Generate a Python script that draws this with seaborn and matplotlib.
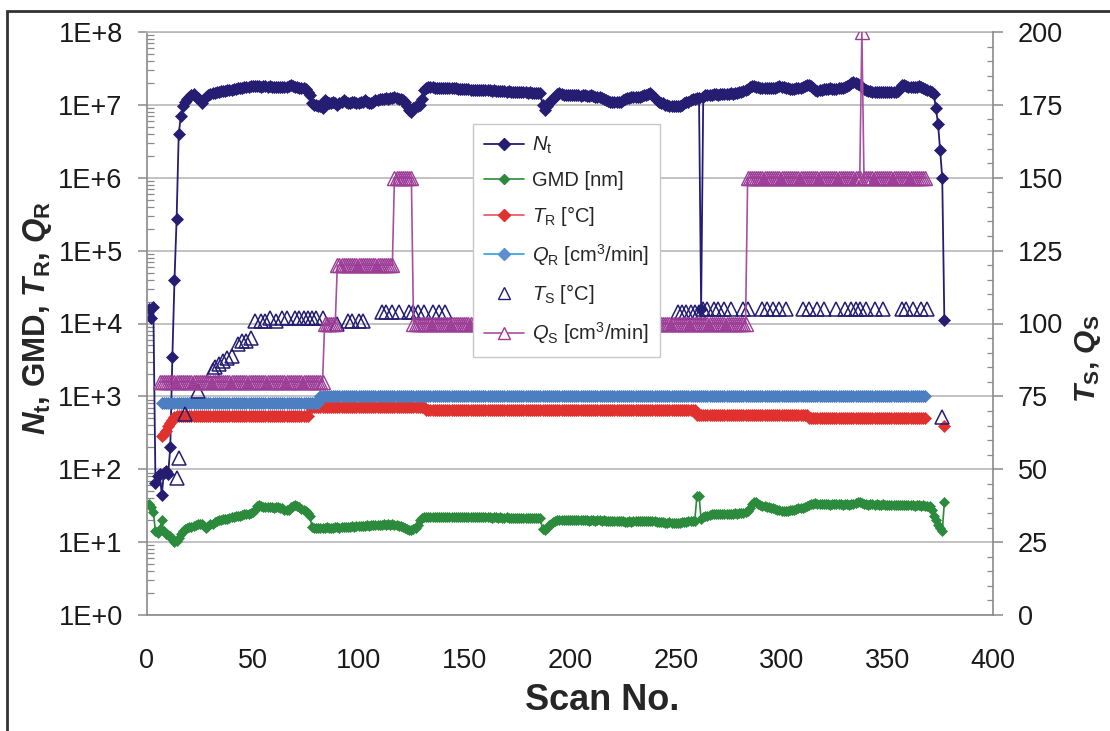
import numpy as np
import matplotlib
matplotlib.use("Agg")
import matplotlib.pyplot as plt
from matplotlib.lines import Line2D
from matplotlib.patches import Rectangle
from matplotlib.ticker import LogLocator, MultipleLocator, FuncFormatter, NullFormatter
import seaborn as sns

# ---------------------------------------------------------------- data
# Total number concentration N_t per scan (scans 1..377)
NT = [
    1.6e4, 1.2e4, 1.7e4, 65, 80, 85, 45, 90, 95, 85,                                  # 1-10
    200, 3.5e3, 4.0e4, 2.7e5, 4.0e6, 7.0e6, 9.5e6, 1.1e7, 1.2e7, 1.3e7,               # 11-20
    1.35e7, 1.4e7, 1.3e7, 1.25e7, 1.15e7, 1.05e7, 1.2e7, 1.3e7, 1.35e7, 1.4e7,        # 21-30
    1.45e7, 1.45e7, 1.5e7, 1.5e7, 1.55e7, 1.55e7, 1.55e7, 1.6e7, 1.6e7, 1.6e7,        # 31-40
    1.65e7, 1.65e7, 1.7e7, 1.7e7, 1.7e7, 1.75e7, 1.75e7, 1.75e7, 1.8e7, 1.8e7,        # 41-50
    1.8e7, 1.8e7, 1.8e7, 1.78e7, 1.8e7, 1.8e7, 1.78e7, 1.8e7, 1.78e7, 1.77e7,         # 51-60
    1.78e7, 1.78e7, 1.76e7, 1.77e7, 1.75e7, 1.76e7, 1.8e7, 1.9e7, 1.8e7, 1.75e7,      # 61-70
    1.75e7, 1.7e7, 1.7e7, 1.7e7, 1.65e7, 1.5e7, 1.35e7, 1.05e7, 1.0e7, 1.0e7,         # 71-80
    9.5e6, 9.5e6, 9.2e6, 1.15e7, 1.1e7, 1.05e7, 1.05e7, 1.1e7, 1.05e7, 1.0e7,         # 81-90
    1.05e7, 1.1e7, 1.15e7, 1.1e7, 1.05e7, 1.05e7, 1.1e7, 1.1e7, 1.05e7, 1.05e7,       # 91-100
    1.1e7, 1.1e7, 1.15e7, 1.1e7, 1.05e7, 1.05e7, 1.1e7, 1.15e7, 1.15e7, 1.2e7,        # 101-110
    1.2e7, 1.2e7, 1.25e7, 1.2e7, 1.25e7, 1.25e7, 1.3e7, 1.25e7, 1.2e7, 1.2e7,         # 111-120
    1.15e7, 1.1e7, 9.5e6, 8.5e6, 8.0e6, 9.0e6, 9.5e6, 9.5e6, 1.0e7, 1.2e7,            # 121-130
    1.6e7, 1.7e7, 1.75e7, 1.75e7, 1.75e7, 1.72e7, 1.72e7, 1.7e7, 1.72e7, 1.7e7,       # 131-140
    1.7e7, 1.7e7, 1.68e7, 1.7e7, 1.68e7, 1.68e7, 1.65e7, 1.66e7, 1.65e7, 1.65e7,      # 141-150
    1.63e7, 1.65e7, 1.62e7, 1.62e7, 1.6e7, 1.62e7, 1.6e7, 1.6e7, 1.58e7, 1.6e7,       # 151-160
    1.58e7, 1.58e7, 1.56e7, 1.58e7, 1.55e7, 1.55e7, 1.56e7, 1.54e7, 1.55e7, 1.52e7,   # 161-170
    1.53e7, 1.52e7, 1.5e7, 1.5e7, 1.52e7, 1.5e7, 1.5e7, 1.48e7, 1.5e7, 1.47e7,        # 171-180
    1.48e7, 1.46e7, 1.47e7, 1.45e7, 1.46e7, 1.45e7, 1.0e7, 8.5e6, 9.5e6, 1.05e7,      # 181-190
    1.15e7, 1.2e7, 1.3e7, 1.4e7, 1.45e7, 1.4e7, 1.38e7, 1.38e7, 1.36e7, 1.36e7,       # 191-200
    1.38e7, 1.35e7, 1.35e7, 1.36e7, 1.34e7, 1.35e7, 1.35e7, 1.33e7, 1.34e7, 1.35e7,   # 201-210
    1.32e7, 1.3e7, 1.3e7, 1.28e7, 1.25e7, 1.2e7, 1.15e7, 1.12e7, 1.1e7, 1.1e7,        # 211-220
    1.08e7, 1.1e7, 1.08e7, 1.1e7, 1.15e7, 1.2e7, 1.25e7, 1.25e7, 1.28e7, 1.3e7,       # 221-230
    1.3e7, 1.28e7, 1.3e7, 1.32e7, 1.35e7, 1.35e7, 1.4e7, 1.45e7, 1.35e7, 1.25e7,      # 231-240
    1.15e7, 1.1e7, 1.05e7, 1.05e7, 1.0e7, 1.0e7, 9.8e6, 9.5e6, 9.5e6, 9.5e6,          # 241-250
    9.5e6, 9.8e6, 1.0e7, 1.05e7, 1.08e7, 1.1e7, 1.15e7, 1.2e7, 1.2e7, 1.25e7,         # 251-260
    1.25e7, 1.6e4, 1.3e7, 1.35e7, 1.35e7, 1.38e7, 1.38e7, 1.4e7, 1.4e7, 1.38e7,       # 261-270
    1.4e7, 1.4e7, 1.42e7, 1.4e7, 1.42e7, 1.45e7, 1.42e7, 1.45e7, 1.45e7, 1.48e7,      # 271-280
    1.5e7, 1.55e7, 1.6e7, 1.65e7, 1.75e7, 1.8e7, 1.8e7, 1.75e7, 1.75e7, 1.72e7,       # 281-290
    1.72e7, 1.7e7, 1.7e7, 1.72e7, 1.7e7, 1.7e7, 1.72e7, 1.75e7, 1.8e7, 1.78e7,        # 291-300
    1.75e7, 1.72e7, 1.68e7, 1.65e7, 1.65e7, 1.65e7, 1.68e7, 1.7e7, 1.72e7, 1.75e7,    # 301-310
    1.8e7, 1.85e7, 1.85e7, 1.8e7, 1.7e7, 1.6e7, 1.55e7, 1.6e7, 1.62e7, 1.65e7,        # 311-320
    1.65e7, 1.65e7, 1.68e7, 1.65e7, 1.65e7, 1.65e7, 1.68e7, 1.7e7, 1.72e7, 1.75e7,    # 321-330
    1.8e7, 1.9e7, 2.0e7, 2.05e7, 2.0e7, 1.95e7, 1.85e7, 1.75e7, 1.65e7, 1.6e7,        # 331-340
    1.55e7, 1.55e7, 1.52e7, 1.5e7, 1.5e7, 1.5e7, 1.52e7, 1.5e7, 1.5e7, 1.5e7,         # 341-350
    1.5e7, 1.5e7, 1.52e7, 1.5e7, 1.55e7, 1.7e7, 1.9e7, 1.85e7, 1.8e7, 1.75e7,         # 351-360
    1.75e7, 1.78e7, 1.75e7, 1.75e7, 1.8e7, 1.75e7, 1.7e7, 1.65e7, 1.6e7, 1.55e7,      # 361-370
    1.5e7, 1.4e7, 9.0e6, 5.5e6, 2.4e6, 1.0e6, 1.1e4,                                  # 371-377
]

# Geometric mean diameter GMD [nm] per scan (scans 1..377)
GMD = [
    33, 30, 26, 14, 13.5, 15, 20, 14, 13, 12.5,
    12, 11, 10, 10.5, 11.5, 13, 14, 15, 15.5, 16,
    16, 16.5, 17, 17.5, 18, 17.5, 16.5, 15.5, 16.5, 17.5,
    18, 19, 19.5, 20, 20, 20.5, 21, 21, 21.5, 22,
    22, 22.5, 23, 23, 23.5, 24, 24, 24.5, 25, 26,
    28, 31, 32, 31, 30, 30, 30.5, 30, 30, 29.5,
    30, 30, 29.5, 29, 28, 27.5, 28, 30, 31, 32,
    31, 30, 28.5, 27.5, 26.5, 25, 23, 16, 15.5, 15.5,
    15.5, 15.8, 15.5, 15.5, 16, 15.8, 15.5, 15.8, 16, 16,
    15.8, 16, 16.2, 16, 16, 16.2, 16.5, 16.2, 16.5, 16.5,
    16.8, 16.5, 16.8, 17, 16.8, 17, 17, 17.2, 17, 17.2,
    17, 17.5, 17.2, 17.5, 17.2, 17.5, 17.2, 17, 16.8, 16.5,
    16, 15.5, 15, 14.5, 14.5, 15, 15.5, 17, 20, 21.5,
    22, 22, 22, 22.2, 22, 22, 21.8, 22, 22, 22.2,
    22, 22, 21.8, 22, 22, 22.2, 22, 21.8, 22, 22,
    21.8, 22, 22, 21.8, 22, 21.8, 21.8, 22, 21.8, 21.8,
    22, 21.8, 21.6, 21.8, 21.8, 21.6, 21.8, 21.6, 21.6, 21.8,
    21.6, 21.6, 21.5, 21.6, 21.6, 21.5, 21.5, 21.6, 21.5, 21.5,
    21.4, 21.5, 21.5, 21.4, 21.4, 21.2, 15, 14.5, 15.5, 17,
    18, 19, 19.5, 20, 20, 20, 20.2, 20, 20, 20.2,
    20, 20, 20.2, 20, 20, 20.2, 20, 20, 19.8, 20,
    20, 19.8, 20, 20, 19.8, 20, 19.8, 19.6, 19.8, 19.8,
    19.6, 19.8, 19.6, 19.5, 19.2, 19, 19, 19.2, 19, 19.2,
    19.4, 19.6, 19.4, 19.5, 19.6, 19.8, 19.6, 19.5, 19.4, 19.2,
    19, 18.8, 18.8, 18.6, 18.5, 18.5, 18.6, 18.4, 18.5, 18.4,
    18.5, 18.4, 18.6, 18.8, 19, 19.2, 19.5, 19.5, 19.8, 43,
    43, 21, 22, 22.5, 23, 23.5, 24, 24, 24, 24.5,
    24, 24, 24.5, 24.5, 24, 24.5, 24.5, 25, 24.5, 25,
    25, 25, 25.5, 27, 29, 33, 36, 35, 33, 32,
    31.5, 31, 30.5, 30, 29.5, 29, 28.5, 28, 27.5, 27,
    27, 26.5, 27, 27.5, 28, 28, 28.5, 29, 29, 29.5,
    30, 31, 32, 33, 33.5, 34, 33.5, 33, 33, 33.5,
    33, 33, 32.5, 33, 33, 33.5, 33, 33, 32.5, 33,
    33, 32.5, 33, 33.5, 34, 35, 36, 34, 33, 33,
    32.5, 33, 33, 32.5, 33, 32.5, 32.5, 33, 32.5, 32,
    32.5, 32.5, 32, 32.5, 32, 32, 32.5, 32, 32, 32.5,
    32, 32, 31.5, 32, 32, 31.5, 32, 31.5, 31.5, 31,
    28, 23, 20, 17, 15.5, 14, 35,
]

# Reactor temperature T_R [degC]: warm-up readings, then held levels (first scan, last scan, value)
TR_RAMP_SCANS = [7, 8, 9, 10, 11, 12, 13, 14]
TR_RAMP = [290, 300, 340, 390, 430, 480, 520, 540]
TR_LEVELS = [(15, 76, 530), (77, 131, 720), (132, 259, 650), (260, 312, 550), (313, 368, 505)]
TR_LAST_SCAN, TR_LAST = 377, 390

# Reactor flow Q_R [cm3/min] levels (first scan, last scan, value)
QR_LEVELS = [(7, 81, 800), (82, 368, 1000)]

# Sampler temperature T_S [degC] (right axis)
TS_SCANS = [14, 15, 18, 24, 31, 32, 34, 36, 38, 40, 43, 45, 47, 49, 51, 54, 56, 58, 61, 64,
            66, 70, 72, 74, 76, 78, 80, 83, 90, 95, 97, 100, 102, 111, 113, 116, 119, 124,
            126, 128, 131, 135, 138, 141, 251, 253, 255, 257, 259, 261, 263, 265, 268, 270,
            273, 276, 282, 284, 291, 293, 296, 299, 302, 310, 313, 317, 320, 326, 330, 333,
            335, 337, 340, 344, 348, 357, 359, 362, 366, 369, 376]
TS = [47, 54, 69, 77, 84, 85, 86, 87, 88, 89, 93, 94, 94, 95, 101, 101, 101, 102, 101, 102,
      102, 102, 102, 102, 102, 102, 102, 102, 100, 101, 101, 101, 101, 104, 104, 104, 104, 104,
      104, 104, 104, 104, 104, 104, 104, 104, 104, 104, 104, 104, 105, 105, 105, 105,
      105, 105, 105, 105, 105, 105, 105, 105, 105, 105, 105, 105, 105, 105, 105, 105,
      105, 105, 105, 105, 105, 105, 105, 105, 105, 105, 68]

# Sampler flow Q_S [cm3/min] levels (right axis)
QS_LEVELS = [(6, 83, 80), (84, 89, 100), (90, 116, 120), (117, 125, 150), (126, 283, 100),
             (284, 337, 150), (338, 338, 200), (339, 368, 150)]


def expand(levels):
    xs, ys = [], []
    for first, last, value in levels:
        n = last - first + 1
        xs.extend(range(first, last + 1))
        ys.extend([value] * n)
    return np.array(xs), np.array(ys, dtype=float)


# ---------------------------------------------------------------- style
sns.set_style("white")
plt.rcParams["font.family"] = ["Liberation Sans", "DejaVu Sans"]
plt.rcParams["mathtext.fontset"] = "custom"
plt.rcParams["mathtext.rm"] = "Liberation Sans"
plt.rcParams["mathtext.it"] = "Liberation Sans:italic"
plt.rcParams["mathtext.bf"] = "Liberation Sans:bold"
try:
    plt.rcParams["mathtext.bfit"] = "Liberation Sans:bold:italic"
except KeyError:
    pass

NAVY = "#241d72"
GREEN = "#2b8a3b"
RED = "#e1312f"
BLUE = "#4c7fc1"
PURPLE = "#9c3c97"
AXIS_GREY = "#8a8a8a"
GRID_GREY = "#b8b8b8"

W, H = 1110, 731
fig = plt.figure(figsize=(W / 100, H / 100), dpi=100)
fig.patch.set_facecolor("white")
L, R, T, B = 147, 993, 32, 615
ax = fig.add_axes([L / W, 1 - B / H, (R - L) / W, (B - T) / H])

scans = np.arange(1, len(NT) + 1)
DMS = 6.6   # diamond marker size

# ---------------------------------------------------------------- left axis series
sns.lineplot(x=scans, y=NT, ax=ax, color=NAVY, lw=1.3, marker="D", markersize=DMS,
             markeredgecolor=NAVY, markeredgewidth=0.5, legend=False)
sns.lineplot(x=np.arange(1, len(GMD) + 1), y=GMD, ax=ax, color=GREEN, lw=1.2, marker="D",
             markersize=5.2, markeredgecolor=GREEN, markeredgewidth=0.5, legend=False)

tr_x, tr_y = expand(TR_LEVELS)
tr_x = np.concatenate([TR_RAMP_SCANS, tr_x])
tr_y = np.concatenate([TR_RAMP, tr_y])
sns.lineplot(x=tr_x, y=tr_y, ax=ax, color=RED, lw=1.2, marker="D", markersize=DMS,
             markeredgecolor=RED, markeredgewidth=0.5, legend=False)
sns.lineplot(x=[TR_LAST_SCAN], y=[TR_LAST], ax=ax, color=RED, lw=0, marker="D",
             markersize=DMS, markeredgecolor=RED, markeredgewidth=0.5, legend=False)

qr_x, qr_y = expand(QR_LEVELS)
sns.lineplot(x=qr_x, y=qr_y, ax=ax, color=BLUE, lw=1.2, marker="D", markersize=DMS,
             markeredgecolor=BLUE, markeredgewidth=0.5, legend=False)

ax.set_yscale("log")
ax.set_ylim(1, 1e8)
ax.set_xlim(0, 400)
ax.yaxis.set_major_locator(LogLocator(base=10, numticks=20))
ax.yaxis.set_minor_locator(LogLocator(base=10, subs=np.arange(2, 10), numticks=200))
ax.yaxis.set_major_formatter(FuncFormatter(lambda v, p: f"1E+{int(round(np.log10(v)))}"))
ax.yaxis.set_minor_formatter(NullFormatter())
ax.xaxis.set_major_locator(MultipleLocator(50))
ax.xaxis.set_minor_locator(MultipleLocator(10))

ax.yaxis.grid(True, which="major", color=GRID_GREY, lw=1.2)
ax.xaxis.grid(False)
ax.set_axisbelow(True)

for side in ["left", "bottom", "right", "top"]:
    ax.spines[side].set_color(AXIS_GREY if side in ("left", "bottom") else GRID_GREY)
    ax.spines[side].set_linewidth(1.2)
ax.spines["right"].set_visible(False)

ax.tick_params(axis="y", which="major", direction="out", length=6.5, width=1.1,
               color=AXIS_GREY, labelsize=19.5, pad=11, labelcolor="#1a1a1a")
ax.tick_params(axis="y", which="minor", direction="in", length=5, width=0.9, color=AXIS_GREY)
ax.tick_params(axis="x", which="major", direction="inout", length=14, width=1.1,
               color=AXIS_GREY, labelsize=19.5, pad=17, labelcolor="#1a1a1a")
ax.tick_params(axis="x", which="minor", direction="in", length=5, width=0.9, color=AXIS_GREY)

ax.set_xlabel("Scan No.", fontsize=26, fontweight="bold", va="center")
ax.xaxis.set_label_coords(0.538, -0.1475)
ax.set_ylabel(r"$\mathbfit{N}_\mathbf{t}$, GMD, $\mathbfit{T}_\mathbf{R}$, $\mathbfit{Q}_\mathbf{R}$",
              fontsize=22.5, fontweight="bold")
ax.yaxis.set_label_coords(-0.110, 0.509)

# ---------------------------------------------------------------- right axis series
ax2 = ax.twinx()
sns.lineplot(x=TS_SCANS, y=TS, ax=ax2, color=NAVY, linestyle="", marker="^", markersize=10,
             markerfacecolor="none", markeredgecolor=NAVY, markeredgewidth=1.1, legend=False)
ts_line = ax2.lines[-1]
ts_line.set_linestyle("none")
ts_line.set_markerfacecolor("none")

qs_x, qs_y = expand(QS_LEVELS)
sns.lineplot(x=qs_x, y=qs_y, ax=ax2, color="#a7509f", lw=1.2, marker="^", markersize=10,
             markerfacecolor="none", markeredgecolor=PURPLE, markeredgewidth=1.0, legend=False)
ax2.lines[-1].set_markerfacecolor("none")

ax2.set_ylim(0, 200)
ax2.yaxis.set_major_locator(MultipleLocator(25))
ax2.yaxis.set_minor_locator(MultipleLocator(5))
for side in ["left", "bottom", "top"]:
    ax2.spines[side].set_visible(False)
ax2.spines["right"].set_color(AXIS_GREY)
ax2.spines["right"].set_linewidth(1.2)
ax2.tick_params(axis="y", which="major", direction="out", length=7, width=1.1,
                color=AXIS_GREY, labelsize=19.5, pad=11, labelcolor="#1a1a1a")
ax2.tick_params(axis="y", which="minor", direction="in", length=4.5, width=0.9, color=AXIS_GREY)
ax2.grid(False)
ax2.set_ylabel(r"$\mathbfit{T}_\mathbf{S}$, $\mathbfit{Q}_\mathbf{S}$", fontsize=21.5,
               fontweight="bold")
ax2.yaxis.set_label_coords(1.0946, 0.44)

# ---------------------------------------------------------------- legend
handles = [
    Line2D([], [], color=NAVY, lw=1.3, marker="D", ms=6.5, mfc=NAVY, mec=NAVY),
    Line2D([], [], color=GREEN, lw=1.2, marker="D", ms=5, mfc=GREEN, mec=GREEN),
    Line2D([], [], color="#e8505a", lw=1.2, marker="D", ms=6.5, mfc=RED, mec=RED),
    Line2D([], [], color="#27a3dc", lw=1.2, marker="D", ms=6.5, mfc="#5b8fd0", mec="#5b8fd0"),
    Line2D([], [], color=NAVY, lw=0, marker="^", ms=9, mfc="none", mec=NAVY, mew=1.0),
    Line2D([], [], color="#a7509f", lw=1.2, marker="^", ms=9, mfc="white", mec=PURPLE, mew=1.0),
]
labels = [
    r"$N_\mathrm{t}$",
    "GMD [nm]",
    r"$T_\mathrm{R}$ [°C]",
    r"$Q_\mathrm{R}$ [cm$^3$/min]",
    r"$T_\mathrm{S}$ [°C]",
    r"$Q_\mathrm{S}$ [cm$^3$/min]",
]
leg = ax2.legend(handles, labels, loc="upper left", bbox_to_anchor=(0.385, 0.842),
                 fontsize=14.5, frameon=True, fancybox=False, edgecolor="#c8c8c8",
                 framealpha=1, borderpad=0.55, labelspacing=0.7, handlelength=2.0,
                 handletextpad=0.4, borderaxespad=0)
leg.get_frame().set_linewidth(1.0)

# ---------------------------------------------------------------- outer frame
fig.add_artist(Rectangle((7 / W, -0.2), 1.2, 0.2 + (H - 11) / H,
                         transform=fig.transFigure, fill=False, ec="#333333", lw=2.0))

fig.savefig("out.png", dpi=100)
